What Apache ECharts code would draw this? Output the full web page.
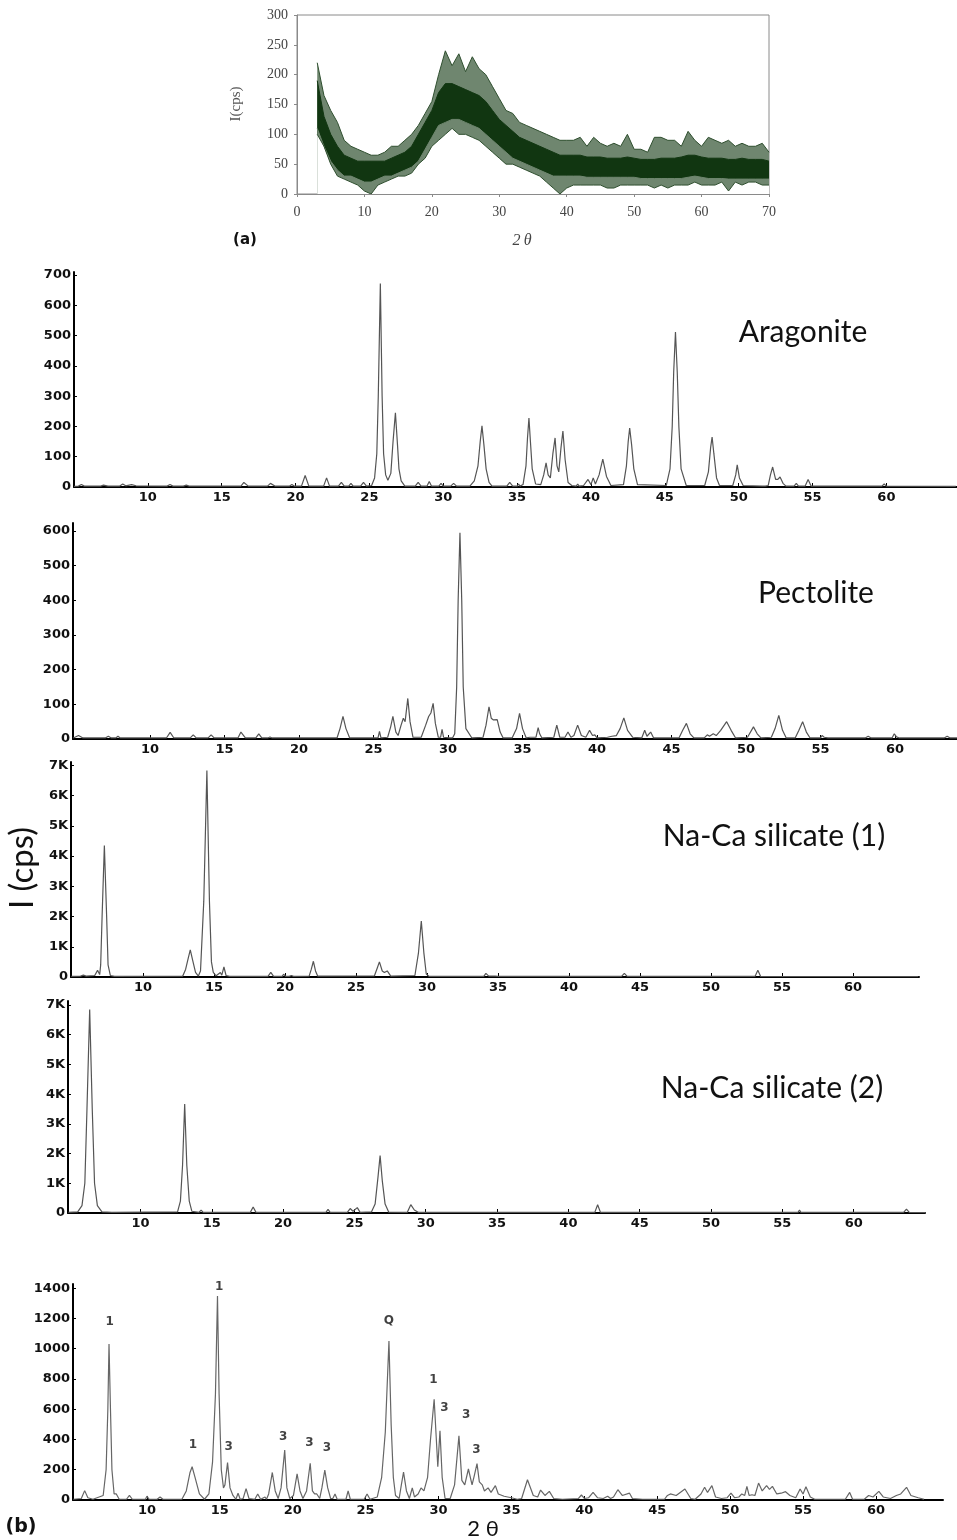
<!DOCTYPE html>
<html>
<head>
<meta charset="utf-8">
<script src="https://cdn.jsdelivr.net/npm/echarts@6/dist/echarts.min.js"></script>
<style>
  html, body { margin: 0; padding: 0; background: #ffffff; }
  #chart { width: 957px; height: 1540px; }
</style>
</head>
<body>
<div id="chart"></div>
<script>
// ---- (a) amorphous scan: envelope of the noisy trace, read per degree 2θ ----
const scanAngle = [3,4,5,6,7,8,9,10,11,12,13,14,15,16,17,18,19,20,21,22,23,24,25,26,27,28,29,30,31,32,33,34,35,36,37,38,39,40,41,42,43,44,45,46,47,48,49,50,51,52,53,54,55,56,57,58,59,60,61,62,63,64,65,66,67,68,69,70];
const scanLow  = [100,80,50,30,25,20,15,5,0,15,20,25,30,30,35,50,60,80,90,100,110,100,100,95,90,80,70,60,50,50,45,40,35,30,20,10,0,10,15,15,15,15,15,10,10,15,15,15,15,15,10,15,10,15,15,15,20,15,15,15,20,5,20,15,20,20,15,15];
const scanHigh = [220,165,140,120,90,80,75,70,65,65,70,80,80,90,100,115,135,155,200,240,215,235,205,230,210,200,180,160,140,135,120,115,110,105,100,95,90,90,90,95,80,95,85,80,85,80,100,75,75,70,95,95,90,90,80,105,90,80,95,90,85,90,80,85,80,80,85,70];
const coreLow  = [110,80,55,40,30,30,25,20,20,25,30,30,35,40,45,55,75,95,115,120,125,125,120,115,110,100,90,80,70,60,55,50,45,40,35,30,30,30,30,30,28,28,28,28,28,28,28,28,26,26,26,26,26,26,26,28,30,28,26,26,26,25,25,25,25,25,25,25];
const coreHigh = [190,130,100,80,65,60,55,55,55,55,55,60,65,70,80,100,120,140,170,185,185,180,175,170,165,155,140,125,115,105,95,90,85,80,75,70,65,65,65,65,62,62,62,60,60,60,62,60,58,58,58,60,60,60,62,65,65,62,60,60,60,58,58,60,58,58,58,55];
const scanXTicks = [0,10,20,30,40,50,60,70];
const scanYTicks = [0,50,100,150,200,250,300];

// ---- (b) diffraction patterns: [2θ, counts] ----
const aragonite = [[5.0,2],[5.3,3],[5.5,8],[5.7,3],[6.8,3],[7.0,6],[7.3,3],[8.1,3],[8.3,10],[8.5,4],[8.9,8],[9.2,4],[11.3,3],[11.5,8],[11.7,3],[12.4,3],[12.6,6],[12.8,3],[16.3,3],[16.5,15],[16.8,3],[18.1,3],[18.3,12],[18.6,3],[19.6,3],[19.75,8],[19.9,3],[20.4,3],[20.65,38],[20.9,3],[21.9,3],[22.1,30],[22.3,3],[22.9,3],[23.1,15],[23.3,3],[23.6,3],[23.75,12],[23.9,3],[24.4,3],[24.6,15],[24.8,3],[25.15,5],[25.35,30],[25.5,110],[25.6,300],[25.74,672],[25.86,300],[25.96,110],[26.1,40],[26.25,22],[26.45,45],[26.6,150],[26.76,245],[26.9,140],[27.0,60],[27.15,20],[27.4,3],[28.1,3],[28.3,15],[28.5,3],[28.9,3],[29.05,18],[29.2,3],[29.7,3],[29.85,12],[30.0,3],[30.5,3],[30.7,12],[30.9,3],[31.8,3],[32.1,20],[32.35,70],[32.5,150],[32.62,202],[32.75,140],[32.9,60],[33.1,15],[33.3,3],[34.3,3],[34.5,15],[34.7,3],[35.0,3],[35.1,10],[35.2,3],[35.4,8],[35.6,70],[35.7,160],[35.8,228],[35.9,150],[36.02,60],[36.25,10],[36.6,8],[36.8,40],[36.96,80],[37.1,40],[37.25,30],[37.42,110],[37.57,162],[37.7,70],[37.82,50],[37.97,130],[38.1,185],[38.25,90],[38.45,15],[38.7,5],[39.0,3],[39.1,10],[39.2,3],[39.5,5],[39.8,25],[40.0,8],[40.15,30],[40.3,10],[40.55,40],[40.8,92],[41.05,35],[41.35,5],[42.2,8],[42.4,70],[42.52,150],[42.62,195],[42.75,140],[42.9,60],[43.15,8],[45.1,5],[45.35,60],[45.5,200],[45.6,380],[45.72,512],[45.84,380],[45.95,200],[46.1,60],[46.45,5],[47.7,5],[47.95,50],[48.1,130],[48.2,165],[48.32,110],[48.5,30],[48.7,5],[49.6,5],[49.8,40],[49.9,73],[50.05,30],[50.3,5],[51.6,3],[51.7,8],[51.8,3],[52.0,5],[52.15,40],[52.3,66],[52.5,25],[52.65,25],[52.8,33],[53.0,12],[53.2,3],[53.75,3],[53.9,12],[54.05,3],[54.5,3],[54.7,25],[54.9,3],[55.2,3],[55.3,8],[55.4,3],[59.7,3],[59.85,10],[60.0,3],[64.7,2]];

const pectolite = [[4.85,3],[5.2,10],[5.5,3],[7.0,3],[7.2,8],[7.4,3],[7.7,3],[7.85,8],[8.0,3],[11.1,3],[11.35,19],[11.6,3],[12.7,3],[12.9,12],[13.1,3],[13.9,3],[14.1,12],[14.3,3],[15.9,3],[16.1,20],[16.4,3],[17.1,3],[17.3,15],[17.5,3],[17.9,3],[18.05,6],[18.2,3],[22.55,3],[22.75,30],[22.95,65],[23.15,30],[23.4,3],[25.3,3],[25.4,22],[25.5,3],[25.95,5],[26.15,35],[26.3,65],[26.5,20],[26.65,10],[26.85,40],[27.0,60],[27.12,50],[27.3,117],[27.45,50],[27.65,5],[28.2,5],[28.5,40],[28.7,65],[28.85,75],[29.0,103],[29.15,45],[29.35,5],[29.5,5],[29.6,28],[29.7,5],[30.1,3],[30.2,8],[30.3,3],[30.45,15],[30.58,150],[30.68,400],[30.8,595],[30.92,400],[31.02,150],[31.2,30],[31.6,3],[32.35,5],[32.55,40],[32.75,93],[32.9,60],[33.05,55],[33.3,56],[33.5,20],[33.7,3],[34.3,3],[34.6,30],[34.8,74],[35.0,30],[35.25,3],[35.5,5],[35.6,10],[35.7,5],[35.9,5],[36.05,33],[36.15,15],[36.2,20],[36.3,3],[37.1,5],[37.3,40],[37.5,5],[37.85,5],[38.05,20],[38.25,5],[38.45,10],[38.7,40],[38.95,10],[39.25,5],[39.5,25],[39.7,10],[39.85,12],[40.0,3],[40.7,5],[41.0,8],[41.3,10],[41.55,30],[41.8,61],[42.05,25],[42.4,5],[43.0,3],[43.2,25],[43.35,8],[43.6,20],[43.8,3],[45.5,3],[45.75,25],[46.0,45],[46.25,15],[46.5,3],[47.2,3],[47.4,12],[47.55,8],[47.8,15],[48.0,10],[48.3,25],[48.7,50],[49.0,25],[49.3,3],[50.1,5],[50.5,35],[50.75,15],[51.0,3],[51.7,5],[51.95,30],[52.2,68],[52.45,25],[52.7,3],[53.3,3],[53.55,25],[53.8,50],[54.05,20],[54.3,3],[55.0,3],[55.1,10],[55.25,5],[55.5,3],[58.0,3],[58.2,8],[58.4,3],[59.8,3],[59.95,15],[60.1,6],[60.3,3],[63.3,3],[63.5,8],[63.7,3],[64.2,3]];

const silicate1 = [[4.95,20],[5.6,30],[5.8,60],[6.0,30],[6.6,50],[6.8,220],[6.95,80],[7.02,400],[7.12,2000],[7.28,4350],[7.44,2000],[7.54,400],[7.7,50],[8.0,20],[12.8,30],[13.0,250],[13.2,650],[13.33,900],[13.5,550],[13.7,150],[13.9,30],[14.05,200],[14.28,2500],[14.5,6830],[14.68,2500],[14.82,500],[14.95,150],[15.15,40],[15.45,150],[15.55,60],[15.7,330],[15.85,50],[16.1,20],[18.2,20],[18.3,50],[18.4,20],[18.8,20],[19.0,150],[19.2,20],[19.8,20],[19.9,90],[20.05,20],[20.3,20],[20.45,50],[20.6,20],[21.7,30],[21.85,250],[22.0,520],[22.15,200],[22.3,30],[26.3,40],[26.5,300],[26.65,500],[26.85,200],[27.0,150],[27.2,200],[27.45,30],[29.15,50],[29.4,800],[29.6,1850],[29.78,800],[29.95,100],[30.05,100],[30.15,20],[31.8,20],[31.9,70],[32.0,20],[34.0,20],[34.15,120],[34.35,30],[34.8,30],[34.9,50],[35.0,20],[43.7,20],[43.9,120],[44.1,20],[48.5,20],[48.6,50],[48.7,20],[53.1,20],[53.3,220],[53.5,20],[64.6,15]];

const silicate2 = [[4.95,20],[5.6,40],[5.9,250],[6.1,1000],[6.25,3500],[6.44,6850],[6.62,3500],[6.78,1000],[6.98,250],[7.3,40],[8.0,20],[12.6,40],[12.8,400],[12.95,1600],[13.1,3670],[13.25,1600],[13.42,400],[13.6,60],[14.1,20],[14.25,100],[14.4,20],[15.2,20],[15.3,40],[15.4,20],[17.7,20],[17.9,200],[18.1,20],[23.0,20],[23.15,120],[23.3,20],[24.5,20],[24.7,150],[24.9,60],[25.2,180],[25.4,20],[26.2,40],[26.45,300],[26.65,1200],[26.8,1930],[26.95,1100],[27.15,300],[27.4,30],[28.7,20],[28.95,280],[29.2,100],[29.5,20],[37.7,20],[37.8,60],[37.9,20],[41.85,20],[42.05,280],[42.25,20],[56.1,20],[56.2,100],[56.3,20],[63.5,20],[63.7,130],[63.9,20],[65.0,15]];

const sample = [[4.95,5],[5.5,10],[5.73,62],[5.95,15],[6.3,5],[7.0,30],[7.2,200],[7.32,600],[7.4,1032],[7.5,600],[7.6,200],[7.75,40],[7.9,40],[8.1,5],[8.6,5],[8.8,30],[9.0,5],[9.2,5],[9.3,15],[9.45,5],[9.9,5],[10.0,25],[10.15,5],[10.7,5],[10.9,20],[11.1,5],[12.4,5],[12.7,60],[12.95,180],[13.1,220],[13.3,150],[13.6,40],[13.95,5],[14.25,40],[14.5,250],[14.7,700],[14.84,1349],[14.95,700],[15.1,200],[15.25,80],[15.35,100],[15.53,247],[15.7,80],[15.9,30],[16.1,5],[16.25,45],[16.4,5],[16.6,10],[16.8,75],[17.0,10],[17.4,5],[17.6,40],[17.8,5],[18.1,20],[18.2,5],[18.35,40],[18.6,182],[18.8,60],[19.0,10],[19.2,80],[19.45,330],[19.6,80],[19.8,10],[20.05,30],[20.3,173],[20.5,60],[20.7,10],[20.95,60],[21.2,243],[21.35,60],[21.5,40],[21.65,40],[21.85,10],[22.0,80],[22.2,198],[22.4,80],[22.6,10],[22.75,10],[22.9,40],[23.05,5],[23.65,5],[23.8,60],[23.95,5],[24.9,5],[25.1,40],[25.3,5],[25.8,20],[26.1,150],[26.35,450],[26.6,1051],[26.75,500],[26.9,150],[27.05,30],[27.15,30],[27.3,10],[27.45,100],[27.6,184],[27.8,60],[28.0,10],[28.2,80],[28.35,20],[28.6,40],[28.8,80],[29.0,60],[29.25,150],[29.45,400],[29.7,666],[29.85,400],[29.95,220],[30.1,458],[30.25,150],[30.45,10],[30.8,10],[31.1,100],[31.4,424],[31.6,130],[31.8,100],[32.05,205],[32.3,100],[32.45,160],[32.64,240],[32.8,120],[33.0,100],[33.15,60],[33.4,80],[33.6,50],[33.9,95],[34.1,40],[34.5,25],[35.0,15],[35.4,5],[35.7,10],[36.1,134],[36.5,30],[36.8,20],[37.0,66],[37.3,30],[37.6,57],[37.9,10],[38.5,5],[39.6,10],[39.8,33],[40.0,10],[40.3,15],[40.6,50],[40.9,15],[41.3,10],[41.6,25],[41.8,10],[42.0,20],[42.3,68],[42.6,30],[43.1,45],[43.3,10],[44.0,5],[44.5,5],[45.0,5],[45.5,5],[45.7,30],[45.9,40],[46.3,30],[46.9,73],[47.3,10],[47.6,5],[48.0,40],[48.25,84],[48.45,50],[48.75,95],[49.0,20],[49.4,10],[49.8,15],[50.06,45],[50.3,15],[50.6,20],[50.8,40],[51.0,30],[51.15,90],[51.3,30],[51.5,35],[51.7,30],[51.95,112],[52.2,60],[52.5,95],[52.7,70],[52.9,90],[53.2,40],[53.5,45],[53.8,55],[54.1,30],[54.5,15],[54.8,73],[55.0,40],[55.2,88],[55.5,20],[55.8,5],[57.9,5],[58.2,50],[58.4,5],[59.2,5],[59.5,30],[59.8,20],[60.2,57],[60.5,20],[61.0,10],[61.4,30],[61.7,40],[62.1,84],[62.4,30],[62.9,15],[63.3,5]];

// phase marks above the sample peaks: [2θ, counts at label, mark]
const phaseMarks = [[7.45,1180,'1'],[14.95,1411,'1'],[13.15,364,'1'],[15.6,352,'3'],[19.35,419,'3'],[21.15,375,'3'],[22.35,342,'3'],[26.6,1185,'Q'],[29.65,797,'1'],[30.4,610,'3'],[31.9,562,'3'],[32.6,331,'3']];

const angleTicks = [10,15,20,25,30,35,40,45,50,55,60];
const countTicksA = [0,100,200,300,400,500,600,700];
const countTicksP = [0,100,200,300,400,500,600];
const countTicksK = [0,1000,2000,3000,4000,5000,6000,7000];
const countTicksS = [0,200,400,600,800,1000,1200,1400];

const panelTitles = ['Aragonite', 'Pectolite', 'Na-Ca silicate (1)', 'Na-Ca silicate (2)'];

const chart = echarts.init(document.getElementById('chart'), null, { renderer: 'canvas' });

const tickFont = { fontFamily: 'DejaVu Sans', fontWeight: 'bold', fontSize: 13, color: '#111' };
const kFormatter = v => (v === 0 ? '0' : (v / 1000) + 'K');

function xrdX(gridIndex, min, max) {
  return {
    type: 'value', gridIndex, min, max,
    axisLine: { show: true, onZero: false, lineStyle: { color: '#000', width: 2 } },
    axisTick: { show: true, inside: true, length: 4, customValues: angleTicks, lineStyle: { color: '#000', width: 1 } },
    axisLabel: Object.assign({ margin: 4, customValues: angleTicks }, tickFont),
    splitLine: { show: false }
  };
}
function xrdY(gridIndex, max, ticks, formatter) {
  return {
    type: 'value', gridIndex, min: 0, max,
    axisLine: { show: true, lineStyle: { color: '#000', width: 2 } },
    axisTick: { show: true, inside: true, length: 3, customValues: ticks, lineStyle: { color: '#000', width: 1 } },
    axisLabel: Object.assign({ margin: 3, customValues: ticks, formatter: formatter || (v => String(v)) }, tickFont),
    splitLine: { show: false }
  };
}
function trace(idx, data, color) {
  return {
    type: 'line', xAxisIndex: idx, yAxisIndex: idx, data, showSymbol: false, symbol: 'none',
    silent: true, animation: false, clip: true,
    lineStyle: { color: color || '#555', width: 1.2 }
  };
}
// one filled layer of the scan envelope, filled down to the zero line
function layer(values, color, lineColor) {
  return {
    type: 'line', xAxisIndex: 0, yAxisIndex: 0, symbol: 'none', silent: true, animation: false,
    data: scanAngle.map((a, i) => [a, values[i]]),
    lineStyle: { color: lineColor || color, width: 1 },
    areaStyle: { color, opacity: 1, origin: 'start' }
  };
}

const serif = '"Liberation Serif", "DejaVu Serif", serif';
const titleFont = 'Lato, "Open Sans", sans-serif';
const fringe = '#6f866f';
const core = '#113611';

const option = {
  backgroundColor: '#ffffff',
  animation: false,
  grid: [
    { left: 297, top: 15, width: 472, height: 179, show: true, borderColor: '#8a8a8a', borderWidth: 1, z: 0 },
    { left: 74, top: 272, width: 883, height: 215 },
    { left: 73, top: 523, width: 884, height: 216 },
    { left: 71, top: 762, width: 848, height: 215 },
    { left: 68, top: 1001, width: 857, height: 212 },
    { left: 73, top: 1284, width: 870, height: 216 }
  ],
  xAxis: [
    { type: 'value', gridIndex: 0, min: 0, max: 70, z: 10,
      axisLine: { show: true, lineStyle: { color: '#8a8a8a', width: 1 } },
      axisTick: { show: true, length: 3, customValues: scanXTicks, lineStyle: { color: '#8a8a8a' } },
      axisLabel: { margin: 11, customValues: scanXTicks, fontFamily: serif, fontSize: 14, color: '#444' },
      splitLine: { show: false } },
    xrdX(1, 5.0, 64.78),
    xrdX(2, 4.83, 64.16),
    xrdX(3, 4.93, 64.65),
    xrdX(4, 4.92, 65.0),
    xrdX(5, 4.93, 64.6)
  ],
  yAxis: [
    { type: 'value', gridIndex: 0, min: 0, max: 300, z: 10,
      axisLine: { show: true, lineStyle: { color: '#8a8a8a', width: 1 } },
      axisTick: { show: true, length: 3, customValues: scanYTicks, lineStyle: { color: '#8a8a8a' } },
      axisLabel: { margin: 9, customValues: scanYTicks, fontFamily: serif, fontSize: 14, color: '#444' },
      splitLine: { show: false } },
    xrdY(1, 710, countTicksA),
    xrdY(2, 623, countTicksP),
    xrdY(3, 7110, countTicksK, kFormatter),
    xrdY(4, 7134, countTicksK, kFormatter),
    xrdY(5, 1428, countTicksS)
  ],
  series: [
    layer(scanHigh, fringe, '#2f4f2f'),
    layer(coreHigh, core),
    layer(coreLow, fringe),
    layer(scanLow, '#ffffff', '#2f4f2f'),
    trace(1, aragonite),
    trace(2, pectolite),
    trace(3, silicate1),
    trace(4, silicate2),
    trace(5, sample, '#666'),
    {
      type: 'scatter', xAxisIndex: 5, yAxisIndex: 5, symbolSize: 1, silent: true, animation: false,
      itemStyle: { color: 'rgba(0,0,0,0)' },
      data: phaseMarks.map(m => ({ value: [m[0], m[1]], label: { formatter: m[2] } })),
      label: { show: true, position: 'inside', fontFamily: 'DejaVu Sans', fontWeight: 'bold', fontSize: 12, color: '#111' }
    }
  ],
  graphic: [
    { type: 'text', x: 236, y: 104, rotation: Math.PI / 2,
      style: { text: 'I(cps)', font: '15px ' + serif, fill: '#555', align: 'center', verticalAlign: 'middle' } },
    { type: 'text', x: 522, y: 241,
      style: { text: '2\u2009θ', font: 'italic 16px ' + serif, fill: '#444', align: 'center', verticalAlign: 'middle' } },
    { type: 'text', x: 245, y: 240,
      style: { text: '(a)', font: 'bold 15px "DejaVu Sans", sans-serif', fill: '#111', align: 'center', verticalAlign: 'middle' } },
    { type: 'text', x: 803, y: 332,
      style: { text: panelTitles[0], font: '30px ' + titleFont, fill: '#111', align: 'center', verticalAlign: 'middle' } },
    { type: 'text', x: 816, y: 593,
      style: { text: panelTitles[1], font: '30px ' + titleFont, fill: '#111', align: 'center', verticalAlign: 'middle' } },
    { type: 'text', x: 774, y: 836,
      style: { text: panelTitles[2], font: '30px ' + titleFont, fill: '#111', align: 'center', verticalAlign: 'middle' } },
    { type: 'text', x: 772, y: 1088,
      style: { text: panelTitles[3], font: '30px ' + titleFont, fill: '#111', align: 'center', verticalAlign: 'middle' } },
    { type: 'text', x: 22, y: 868, rotation: Math.PI / 2,
      style: { text: 'I (cps)', font: '33px ' + titleFont, fill: '#111', align: 'center', verticalAlign: 'middle' } },
    { type: 'text', x: 483, y: 1529,
      style: { text: '2 θ', font: '22px ' + titleFont, fill: '#111', align: 'center', verticalAlign: 'middle' } },
    { type: 'text', x: 21, y: 1527,
      style: { text: '(b)', font: 'bold 19px "DejaVu Sans", sans-serif', fill: '#111', align: 'center', verticalAlign: 'middle' } }
  ]
};

chart.setOption(option);
</script>
</body>
</html>
